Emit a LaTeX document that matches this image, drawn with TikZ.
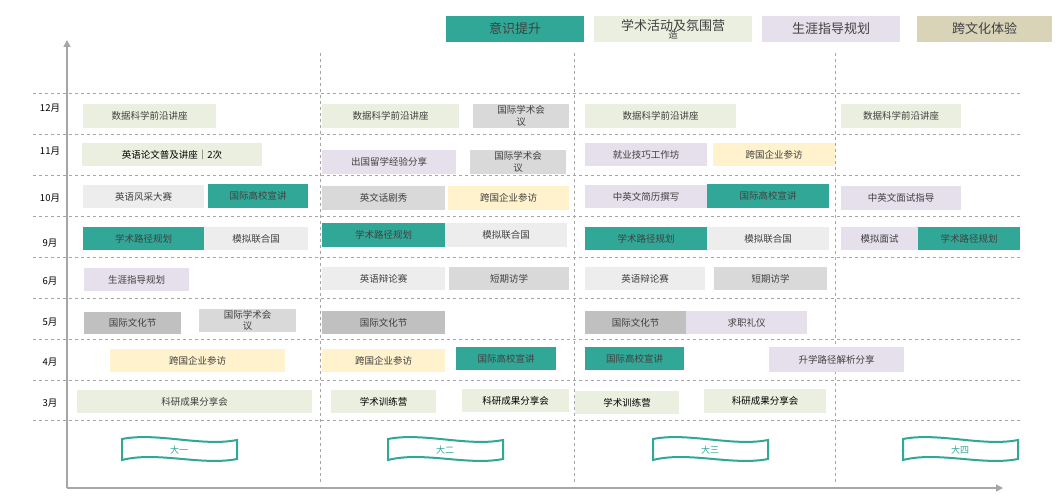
\documentclass[tikz,border=0pt]{standalone}
\usepackage{fontspec}
\setmainfont{Noto Sans CJK SC}
\usetikzlibrary{arrows.meta}
\definecolor{teal1}{HTML}{31A897}
\definecolor{green1}{HTML}{EBEFDF}
\definecolor{lav1}{HTML}{E5E0EC}
\definecolor{tan1}{HTML}{D9D3B7}
\definecolor{greyA}{HTML}{EDEDED}
\definecolor{greyB}{HTML}{D9D9D9}
\definecolor{greyC}{HTML}{C0C0C0}
\definecolor{yel1}{HTML}{FFF2CC}
\definecolor{axisgrey}{HTML}{A6A6A6}
% box from corner (x1,y1) to (x2,y2)
\newcommand\act[7]{\node[act, fill=#6, minimum width={(#4-#2)*1pt}, minimum height={(#5-#3)*1pt}] (#1) at ({(#2+#4)/2},{(#3+#5)/2}) {#7};}
\newcommand\banner[3]{%
\draw[flag] (#2,439) .. controls (#2+35,432) and (#2+80,447) .. (#2+115,440) -- (#2+115,459)
  .. controls (#2+80,466) and (#2+35,451) .. (#2,460) -- cycle;
\node[flagtext] (#1) at (#2+57,450) {#3};}
\begin{document}
\begin{tikzpicture}[x=1pt,y=-1pt]
\tikzstyle{act} = [rectangle, inner sep=0pt, font=\fontsize{9.5}{10}\selectfont, text=black!75, align=center]
\tikzstyle{legend} = [rectangle, inner sep=0pt, font=\fontsize{13}{14}\selectfont, align=center]
\tikzstyle{grid} = [draw=axisgrey, dashed, thin]
\tikzstyle{flag} = [draw=teal1, line width=2pt, fill=white]
\tikzstyle{flagtext} = [text=teal1, font=\fontsize{9}{10}\selectfont]
\tikzstyle{month} = [font=\fontsize{9.5}{10}\selectfont]
\useasboundingbox (0,0) rectangle (1059,497);
% legend
\act{lgA}{446}{16}{584}{42}{teal1}{\fontsize{13}{14}\selectfont 意识提升}
\act{lgB}{594}{16}{752}{42}{green1}{\fontsize{13}{14}\selectfont 学术活动及氛围营\\[-2pt]造}
\act{lgC}{762}{16}{900}{42}{lav1}{\fontsize{13}{14}\selectfont 生涯指导规划}
\act{lgD}{917}{16}{1052}{42}{tan1}{\fontsize{13}{14}\selectfont 跨文化体验}
% grid
\foreach \y in {93,134,175,216,257,298,339,380,420}
  \draw[grid] (33,\y) -- (1020,\y);
\foreach \x in {320,574,835}
  \draw[grid] (\x,53) -- (\x,485);
% axes
\coordinate (origin) at (67,488);
\coordinate (ytop) at (67,40);
\coordinate (xend) at (1003,488);
\draw[axisgrey, line width=1.5pt, -{Triangle[length=7pt,width=7pt]}] (origin) -- (ytop);
\draw[axisgrey, line width=1.5pt, -{Triangle[length=7pt,width=7pt]}] (origin) -- (xend);
% months
\foreach \m/\y in {12月/108,11月/151,10月/198,9月/243,6月/281,5月/322,4月/362,3月/403}
  \node[month] at (50,\y) {\m};
% year 1
\act{aA}{83}{104}{216}{128}{green1}{数据科学前沿讲座}
\act{aB}{82}{143}{262}{166}{green1}{\textcolor{black}{英语论文普及讲座｜2次}}
\act{aC}{83}{185}{204}{208}{greyA}{英语风采大赛}
\act{aD}{208}{184}{308}{208}{teal1}{国际高校宣讲}
\act{aE}{83}{227}{204}{250}{teal1}{学术路径规划}
\act{aF}{204}{227}{308}{250}{greyA}{模拟联合国}
\act{aG}{84}{268}{189}{291}{lav1}{生涯指导规划}
\act{aH}{84}{312}{181}{334}{greyC}{国际文化节}
\act{aI}{199}{309}{296}{332}{greyB}{\raisebox{-7pt}{\shortstack{国际学术会\\议}}}
\act{aJ}{110}{349}{285}{372}{yel1}{跨国企业参访}
\act{aK}{77}{390}{312}{413}{green1}{科研成果分享会}
% year 2
\act{bA}{322}{104}{459}{128}{green1}{数据科学前沿讲座}
\act{bB}{473}{104}{569}{128}{greyB}{\raisebox{-7pt}{\shortstack{国际学术会\\议}}}
\act{bC}{322}{150}{456}{174}{lav1}{出国留学经验分享}
\act{bD}{470}{150}{566}{174}{greyB}{\raisebox{-7pt}{\shortstack{国际学术会\\议}}}
\act{bE}{322}{186}{445}{210}{greyB}{英文话剧秀}
\act{bF}{448}{186}{569}{210}{yel1}{跨国企业参访}
\act{bG}{322}{223}{445}{247}{teal1}{学术路径规划}
\act{bH}{445}{223}{567}{247}{greyA}{模拟联合国}
\act{bI}{322}{267}{445}{290}{greyA}{英语辩论赛}
\act{bJ}{449}{267}{569}{290}{greyB}{短期访学}
\act{bK}{322}{311}{445}{334}{greyC}{国际文化节}
\act{bL}{322}{349}{445}{372}{yel1}{跨国企业参访}
\act{bM}{456}{347}{556}{370}{teal1}{国际高校宣讲}
\act{bN}{331}{390}{436}{413}{green1}{\textcolor{black}{学术训练营}}
\act{bO}{462}{389}{569}{412}{green1}{\textcolor{black}{科研成果分享会}}
% year 3
\act{cA}{585}{104}{736}{128}{green1}{数据科学前沿讲座}
\act{cB}{585}{143}{707}{166}{lav1}{就业技巧工作坊}
\act{cC}{713}{143}{835}{166}{yel1}{跨国企业参访}
\act{cD}{585}{185}{707}{208}{lav1}{中英文简历撰写}
\act{cE}{707}{184}{829}{208}{teal1}{国际高校宣讲}
\act{cF}{585}{227}{707}{250}{teal1}{学术路径规划}
\act{cG}{707}{227}{829}{250}{greyA}{模拟联合国}
\act{cH}{585}{267}{705}{290}{greyA}{英语辩论赛}
\act{cI}{714}{267}{827}{290}{greyB}{短期访学}
\act{cJ}{585}{311}{686}{334}{greyC}{国际文化节}
\act{cK}{686}{311}{807}{334}{lav1}{求职礼仪}
\act{cL}{585}{347}{684}{370}{teal1}{国际高校宣讲}
\act{cM}{769}{347}{904}{372}{lav1}{升学路径解析分享}
\act{cN}{575}{391}{679}{414}{green1}{\textcolor{black}{学术训练营}}
\act{cO}{704}{389}{826}{413}{green1}{\textcolor{black}{科研成果分享会}}
% year 4
\act{dA}{841}{104}{961}{128}{green1}{数据科学前沿讲座}
\act{dB}{841}{186}{961}{210}{lav1}{中英文面试指导}
\act{dC}{841}{227}{918}{250}{lav1}{模拟面试}
\act{dD}{918}{227}{1020}{250}{teal1}{学术路径规划}
% banners
\banner{yr1}{122}{大一}
\banner{yr2}{388}{大二}
\banner{yr3}{653}{大三}
\banner{yr4}{903}{大四}
\end{tikzpicture}
\end{document}
